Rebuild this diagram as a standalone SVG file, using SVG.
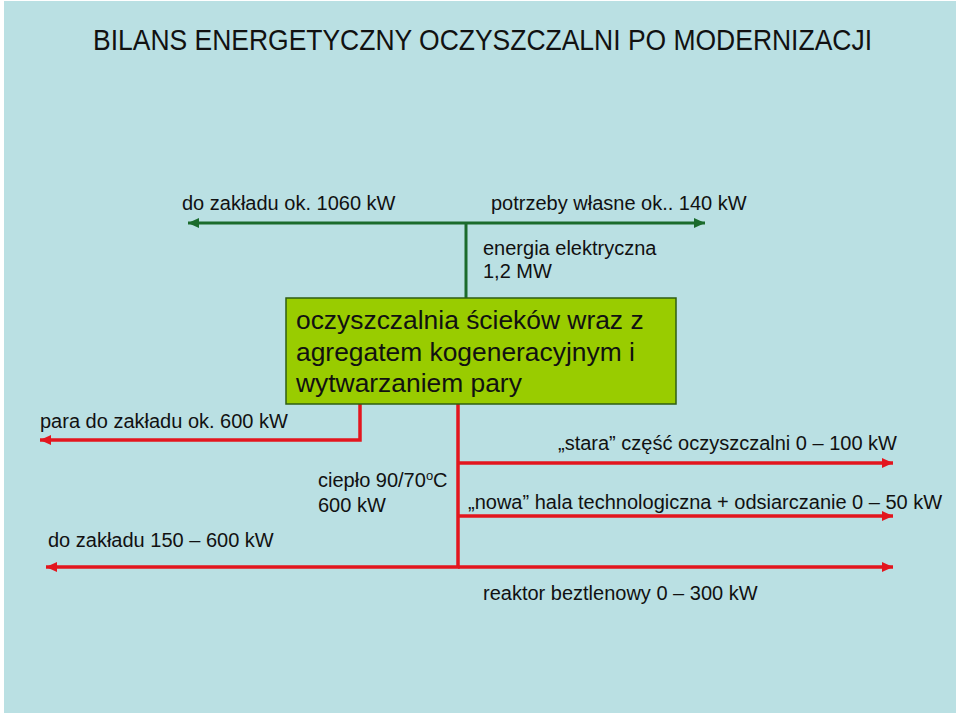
<svg xmlns="http://www.w3.org/2000/svg" width="960" height="717" viewBox="0 0 960 717">
<style>
text{font-family:"Liberation Sans",Arial,sans-serif;fill:#111;}
.t{font-size:20px;}
.b{font-size:26.4px;}
.g{stroke:#1B6B2C;stroke-width:3;fill:none;}
.r{stroke:#E3161E;stroke-width:3.5;fill:none;}
</style>
<defs>
<marker id="ag" markerUnits="userSpaceOnUse" markerWidth="12" markerHeight="10" refX="11" refY="5" orient="auto"><path d="M0,0 L11,5 L0,10 Z" fill="#1B6B2C"/></marker>
<marker id="ar" markerUnits="userSpaceOnUse" markerWidth="12" markerHeight="10" refX="11" refY="5" orient="auto"><path d="M0,0 L11,5 L0,10 Z" fill="#E3161E"/></marker>
</defs>
<rect width="960" height="717" fill="#ffffff"/>
<rect x="4" y="1" width="952" height="712" fill="#BAE0E3"/>
<text x="93" y="50" font-size="29" textLength="779" lengthAdjust="spacingAndGlyphs">BILANS ENERGETYCZNY OCZYSZCZALNI PO MODERNIZACJI</text>
<g id="connectors">
<line class="g" x1="466" y1="223" x2="188" y2="223" marker-end="url(#ag)"/>
<line class="g" x1="466" y1="223" x2="705" y2="223" marker-end="url(#ag)"/>
<line class="g" x1="466" y1="223" x2="466" y2="298"/>
<polyline class="r" points="360,404 360,440 40,440" marker-end="url(#ar)"/>
<polyline class="r" points="458,404 458,567 46,567" marker-end="url(#ar)"/>
<line class="r" x1="458" y1="567" x2="893" y2="567" marker-end="url(#ar)"/>
<line class="r" x1="458" y1="463" x2="893" y2="463" marker-end="url(#ar)"/>
<line class="r" x1="458" y1="516" x2="893" y2="516" marker-end="url(#ar)"/>
</g>
<g id="node-oczyszczalnia">
<rect x="286" y="298" width="390" height="106" fill="#99CC00" stroke="#2F5E12" stroke-width="1.5"/>
<text class="b" x="296" y="329">oczyszczalnia ścieków wraz z</text>
<text class="b" x="296" y="361">agregatem kogeneracyjnym i</text>
<text class="b" x="296" y="392">wytwarzaniem pary</text>
</g>
<g id="labels">
<text class="t" x="182" y="210">do zakładu ok. 1060 kW</text>
<text class="t" x="491" y="210">potrzeby własne ok.. 140 kW</text>
<text class="t" x="483" y="255">energia elektryczna</text>
<text class="t" x="483" y="278">1,2 MW</text>
<text class="t" x="40" y="428">para do zakładu ok. 600 kW</text>
<text class="t" x="558" y="450">„stara” część oczyszczalni 0 – 100 kW</text>
<text class="t" x="318" y="487">ciepło 90/70<tspan font-size="13" dy="-7">o</tspan><tspan dy="7">C</tspan></text>
<text class="t" x="318" y="512">600 kW</text>
<text class="t" x="468" y="509">„nowa” hala technologiczna + odsiarczanie 0 – 50 kW</text>
<text class="t" x="48" y="547">do zakładu 150 – 600 kW</text>
<text class="t" x="483" y="600">reaktor beztlenowy 0 – 300 kW</text>
</g>
</svg>
